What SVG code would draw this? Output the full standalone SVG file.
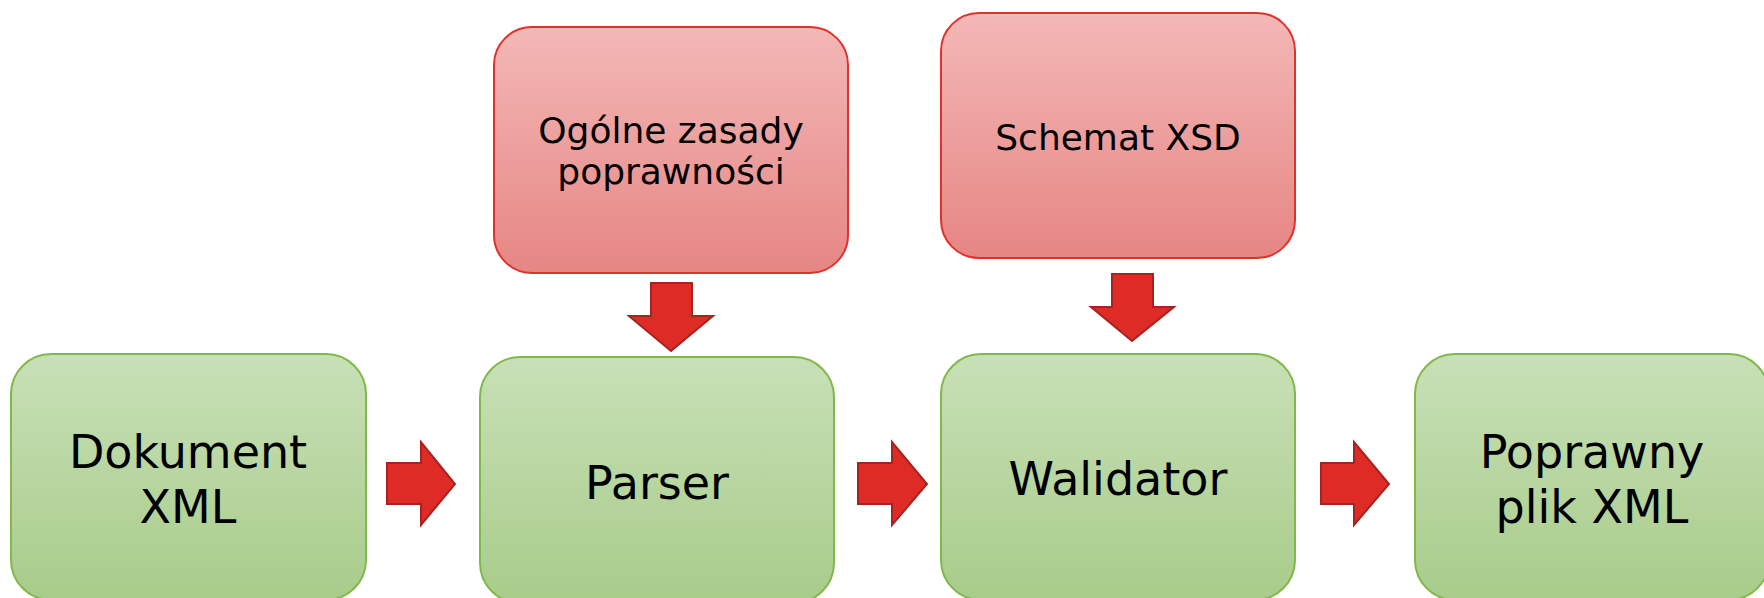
<svg xmlns="http://www.w3.org/2000/svg" width="1764" height="598" viewBox="0 0 1764 598">
<defs>
<linearGradient id="gGreen" x1="0" y1="0" x2="0" y2="1">
<stop offset="0" stop-color="#c8e0b7"/>
<stop offset="1" stop-color="#a8cc8a"/>
</linearGradient>
<linearGradient id="gRed" x1="0" y1="0" x2="0" y2="1">
<stop offset="0" stop-color="#f3b8b7"/>
<stop offset="1" stop-color="#e68683"/>
</linearGradient>
</defs>
<style>
.green{fill:url(#gGreen);stroke:#80b94a;stroke-width:2}
.red{fill:url(#gRed);stroke:#e0322d;stroke-width:2}
.arrow{fill:#de2b26;stroke:#a82220;stroke-width:2;stroke-linejoin:miter}
.big{font-family:"DejaVu Sans","Liberation Sans",sans-serif;font-size:46px;fill:#000;text-anchor:middle}
.small{font-family:"DejaVu Sans","Liberation Sans",sans-serif;font-size:36px;fill:#000;text-anchor:middle}
</style>
<rect width="1764" height="598" fill="#ffffff"/>
<g id="node-ogolne">
<rect class="red" x="494" y="27" width="354" height="246" rx="38"/>
<text class="small" x="671" y="143">Ogólne zasady</text>
<text class="small" x="671" y="184">poprawności</text>
</g>
<g id="node-schemat">
<rect class="red" x="941" y="13" width="354" height="245" rx="38"/>
<text class="small" x="1118" y="150">Schemat XSD</text>
</g>
<g id="node-dokument">
<rect class="green" x="11" y="354" width="355" height="246" rx="40"/>
<text class="big" x="188" y="468">Dokument</text>
<text class="big" x="188" y="523">XML</text>
</g>
<g id="node-parser">
<rect class="green" x="480" y="357" width="354" height="246" rx="40"/>
<text class="big" x="657" y="499">Parser</text>
</g>
<g id="node-walidator">
<rect class="green" x="941" y="354" width="354" height="246" rx="40"/>
<text class="big" x="1118" y="495">Walidator</text>
</g>
<g id="node-poprawny">
<rect class="green" x="1415" y="354" width="354" height="246" rx="40"/>
<text class="big" x="1592" y="468">Poprawny</text>
<text class="big" x="1592" y="523">plik XML</text>
</g>
<g id="connectors">
<polygon class="arrow" points="387,463 421,463 421,442 455,484 421,525 421,504 387,504"/>
<polygon class="arrow" points="858,463 892,463 892,442 927,484 892,525 892,504 858,504"/>
<polygon class="arrow" points="1321,463 1354,463 1354,442 1389,484 1354,525 1354,504 1321,504"/>
<polygon class="arrow" points="651,283 692,283 692,316 713,316 671,351 629,316 651,316"/>
<polygon class="arrow" points="1112,274 1153,274 1153,307 1174,307 1132,341 1091,307 1112,307"/>
</g>
</svg>
